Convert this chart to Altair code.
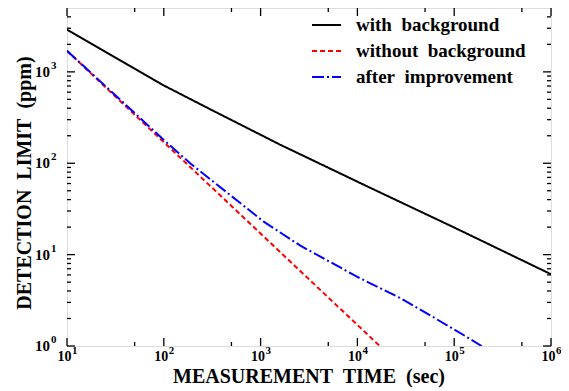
import altair as alt
import pandas as pd

# ---- data ----
t_with = [10, 31.6, 57, 100, 316, 1585, 13500, 100000, 1000000]
dl_with = [2900, 1430, 1000, 710, 380, 160, 54, 19.8, 6.1]
t_without = [10, 100, 1000, 10000, 17000]
dl_without = [1700, 170, 17, 1.7, 1.0]
t_after = [10, 31.6, 100, 187, 483, 1067, 2553, 10000, 27500, 100000, 192000]
dl_after = [1700, 555, 180, 100, 45, 23.1, 12.6, 5.7, 3.36, 1.52, 1.0]

series = ["with\u00a0 background", "without\u00a0 background", "after\u00a0 improvement"]
colors = ["#000000", "#ff0000", "#0000ff"]
dashes = [[1, 0], [5, 3], [12, 3, 2, 3]]

x_title = "MEASUREMENT\u00a0 TIME\u00a0 (sec)"
y_title = "DETECTION\u00a0 LIMIT\u00a0 (ppm)"

x_major = [10, 100, 1000, 10000, 100000, 1000000]
x_major_exp = ["1", "2", "3", "4", "5", "6"]
x_minor = [50, 500, 5000, 50000, 500000]
y_major = [1, 10, 100, 1000]
y_major_exp = ["0", "1", "2", "3"]
y_minor = [2, 3, 4, 5, 6, 7, 8, 9, 20, 30, 40, 50, 60, 70, 80, 90,
           200, 300, 400, 500, 600, 700, 800, 900, 2000, 3000, 4000]

W, H = 484, 338
FONT = "Liberation Serif"

xscale = alt.Scale(type="log", domain=[10, 1000000], nice=False)
yscale = alt.Scale(type="log", domain=[1, 5000], nice=False)

rows = []
for name, ts, ds in [(series[0], t_with, dl_with), (series[1], t_without, dl_without),
                     (series[2], t_after, dl_after)]:
    for t, d in zip(ts, ds):
        rows.append({"series": name, "t": t, "dl": d})
df = pd.DataFrame(rows)

lines = alt.Chart(df).mark_line(strokeWidth=2, clip=True).encode(
    x=alt.X("t:Q", scale=xscale, axis=None),
    y=alt.Y("dl:Q", scale=yscale, axis=None),
    color=alt.Color("series:N", scale=alt.Scale(domain=series, range=colors), legend=None),
    strokeDash=alt.StrokeDash("series:N", scale=alt.Scale(domain=series, range=dashes), legend=None),
    detail="series:N",
)

layers = [lines]


def xticks(vals, length):
    d = pd.DataFrame({"v": vals})
    out = []
    for y0, y1 in [(H, H - length), (0, length)]:
        out.append(alt.Chart(d).mark_rule(color="black", strokeWidth=1.3).encode(
            x=alt.X("v:Q", scale=xscale, axis=None), y=alt.value(y0), y2=alt.value(y1)))
    return out


def yticks(vals, length):
    d = pd.DataFrame({"v": vals})
    out = []
    for x0, x1 in [(0, length), (W, W - length)]:
        out.append(alt.Chart(d).mark_rule(color="black", strokeWidth=1.3).encode(
            y=alt.Y("v:Q", scale=yscale, axis=None), x=alt.value(x0), x2=alt.value(x1)))
    return out


layers += xticks(x_major, 8) + xticks(x_minor, 4) + yticks(y_major, 8) + yticks(y_minor, 4)

# tick labels: "10" with superscript exponent
xl = pd.DataFrame({"v": x_major, "e": x_major_exp, "b": ["10"] * len(x_major)})
layers.append(alt.Chart(xl).mark_text(font=FONT, fontSize=14, fontWeight="bold", color="black",
                                      align="right", baseline="middle", dx=4.5).encode(
    x=alt.X("v:Q", scale=xscale, axis=None), y=alt.value(H + 11), text="b:N"))
layers.append(alt.Chart(xl).mark_text(font=FONT, fontSize=11, fontWeight="bold", color="black",
                                      align="left", baseline="middle", dx=5).encode(
    x=alt.X("v:Q", scale=xscale, axis=None), y=alt.value(H + 5), text="e:N"))

yl = pd.DataFrame({"v": y_major, "e": y_major_exp, "b": ["10"] * len(y_major)})
layers.append(alt.Chart(yl).mark_text(font=FONT, fontSize=15, fontWeight="bold", color="black",
                                      align="right", baseline="middle").encode(
    y=alt.Y("v:Q", scale=yscale, axis=None), x=alt.value(-17), text="b:N"))
layers.append(alt.Chart(yl).mark_text(font=FONT, fontSize=11, fontWeight="bold", color="black",
                                      align="left", baseline="middle", dy=-6).encode(
    y=alt.Y("v:Q", scale=yscale, axis=None), x=alt.value(-16), text="e:N"))

# axis titles
tdf = pd.DataFrame({"x": [x_title], "y": [y_title]})
layers.append(alt.Chart(tdf).mark_text(font=FONT, fontSize=20, fontWeight="bold", color="black",
                                       align="center", baseline="alphabetic").encode(
    x=alt.value(W / 2), y=alt.value(H + 37), text="x:N"))
layers.append(alt.Chart(tdf).mark_text(font=FONT, fontSize=20, fontWeight="bold", color="black",
                                       align="center", baseline="alphabetic", angle=270).encode(
    x=alt.value(-36), y=alt.value(175), text="y:N"))

# legend (inside, top right)
for i, name in enumerate(series):
    yy = 17 + 26 * i
    ld = pd.DataFrame({"series": [name]})
    layers.append(alt.Chart(ld).mark_rule(strokeWidth=2, color=colors[i], strokeDash=dashes[i]).encode(
        x=alt.value(245), x2=alt.value(274), y=alt.value(yy)))
    layers.append(alt.Chart(ld).mark_text(font=FONT, fontSize=19, fontWeight="bold", color="black",
                                          align="left", baseline="middle").encode(
        x=alt.value(289), y=alt.value(yy), text="series:N"))

chart = alt.layer(*layers).properties(
    width=W, height=H,
    autosize=alt.AutoSizeParams(type="none"),
    padding={"left": 59, "top": 0, "right": 10, "bottom": 45},
).configure_view(stroke="black", strokeWidth=2).configure(background="white")

chart.save("out.html", embed_options={"renderer": "svg", "actions": False})
